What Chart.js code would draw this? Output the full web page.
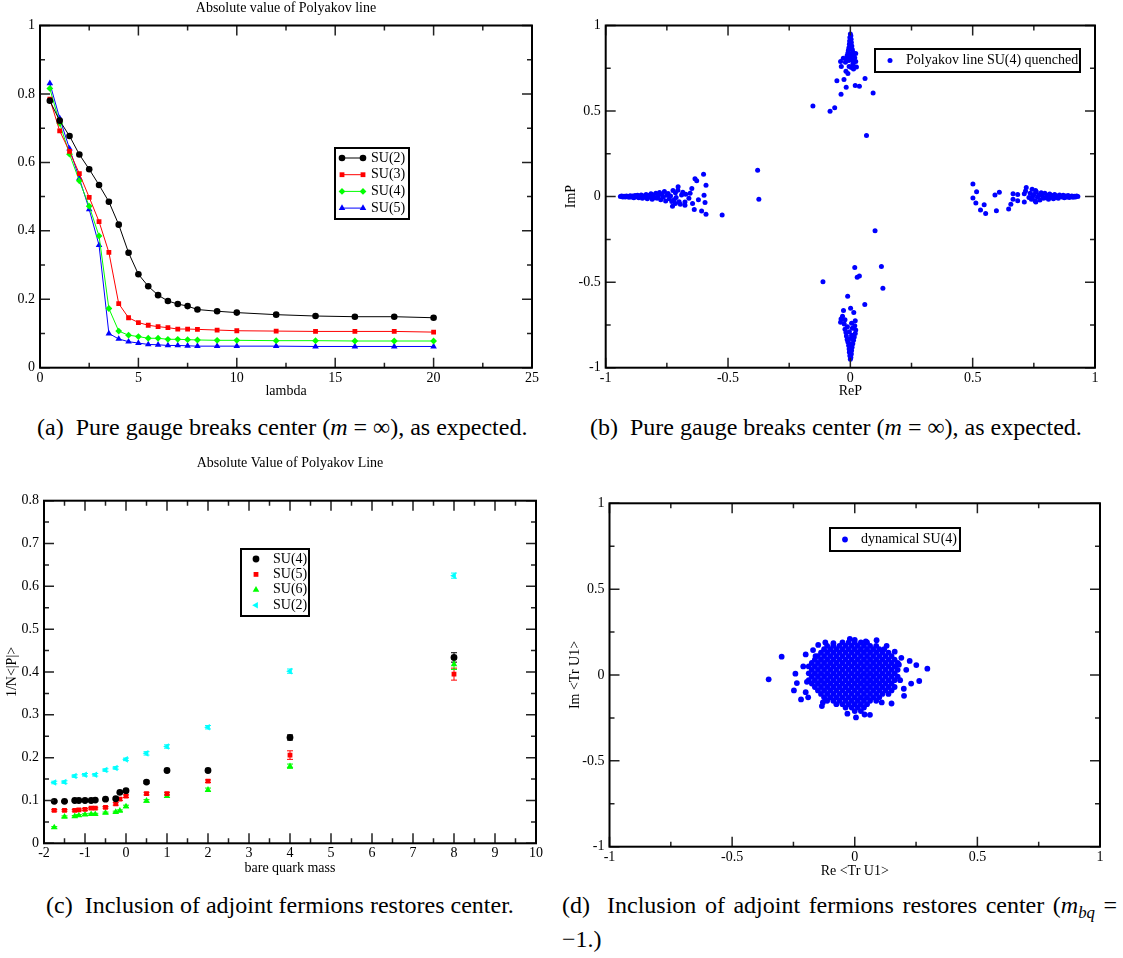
<!DOCTYPE html>
<html>
<head>
<meta charset="utf-8">
<script src="https://cdn.jsdelivr.net/npm/chart.js@4.4.1/dist/chart.umd.min.js"></script>
<style>
  body { margin: 0; background: #fff; width: 1123px; height: 958px; position: relative; overflow: hidden;
         font-family: "Liberation Serif", "Times New Roman", serif; color: #000; }
  canvas { position: absolute; }
  .cap { position: absolute; font-size: 24px; line-height: 1; white-space: nowrap; }
  .cap sub { font-size: 70%; vertical-align: -0.3em; line-height: 0; }
</style>
</head>
<body>
<canvas id="chartA" width="560" height="405" style="left:0;top:0"></canvas>
<canvas id="chartB" width="563" height="405" style="left:560px;top:0"></canvas>
<canvas id="chartC" width="560" height="430" style="left:0;top:450px"></canvas>
<canvas id="chartD" width="563" height="430" style="left:560px;top:450px"></canvas>

<div class="cap" style="left:37px;top:415px">(a)&nbsp; Pure gauge breaks center (<i>m</i> = ∞), as expected.</div>
<div class="cap" style="left:590px;top:415px">(b)&nbsp; Pure gauge breaks center (<i>m</i> = ∞), as expected.</div>
<div class="cap" style="left:46px;top:893px">(c)&nbsp; Inclusion of adjoint fermions restores center.</div>
<div class="cap" style="left:562px;top:893px;width:555px;text-align:justify;text-align-last:justify">(d)&nbsp; Inclusion of adjoint fermions restores center (<i>m<sub>bq</sub></i> =</div>
<div class="cap" style="left:562px;top:927px">−1.)</div>

<script>
// ---------- (a) absolute value of Polyakov line vs lambda ----------
const lambdaVals = [0.5, 1, 1.5, 2, 2.5, 3, 3.5, 4, 4.5, 5, 5.5, 6, 6.5, 7, 7.5, 8, 9, 10, 12, 14, 16, 18, 20];
const absSU2 = [0.780, 0.722, 0.677, 0.623, 0.580, 0.534, 0.485, 0.418, 0.336, 0.273, 0.238, 0.212, 0.195, 0.186, 0.180, 0.170, 0.165, 0.161, 0.155, 0.151, 0.149, 0.149, 0.146];
const absSU3 = [0.785, 0.692, 0.632, 0.567, 0.498, 0.427, 0.337, 0.187, 0.146, 0.132, 0.124, 0.120, 0.117, 0.113, 0.113, 0.112, 0.110, 0.108, 0.107, 0.106, 0.106, 0.106, 0.104];
const absSU4 = [0.816, 0.714, 0.624, 0.546, 0.472, 0.385, 0.173, 0.107, 0.095, 0.091, 0.086, 0.086, 0.083, 0.083, 0.082, 0.081, 0.080, 0.080, 0.079, 0.079, 0.078, 0.078, 0.078];
const absSU5 = [0.831, 0.729, 0.640, 0.553, 0.463, 0.358, 0.100, 0.084, 0.076, 0.072, 0.068, 0.067, 0.065, 0.065, 0.064, 0.063, 0.063, 0.063, 0.063, 0.062, 0.062, 0.062, 0.062];

// ---------- (b) Polyakov line SU(4) quenched, [Re, Im] ----------
const quenchedSU4 = [
  // left cluster
  [-0.940, 0.000], [-0.935, 0.003], [-0.930, -0.002], [-0.925, 0.002], [-0.920, -0.003], [-0.915, 0.004], [-0.910, 0.000], [-0.905, -0.004],
  [-0.900, 0.005], [-0.895, -0.002], [-0.890, 0.003], [-0.885, -0.006], [-0.880, 0.006], [-0.875, -0.001], [-0.870, 0.008], [-0.865, -0.007],
  [-0.860, 0.002], [-0.855, 0.010], [-0.850, -0.009], [-0.845, 0.004], [-0.840, -0.004], [-0.835, 0.013], [-0.830, -0.012], [-0.825, 0.006],
  [-0.820, -0.002], [-0.815, 0.016], [-0.810, -0.015], [-0.805, 0.009], [-0.800, -0.006], [-0.795, 0.020], [-0.790, -0.010], [-0.785, 0.003],
  [-0.780, 0.024], [-0.775, -0.018], [-0.770, 0.012], [-0.765, -0.004], [-0.760, 0.030], [-0.755, -0.025], [-0.750, 0.008], [-0.745, 0.018],
  [-0.740, -0.012], [-0.735, 0.004], [-0.730, -0.028], [-0.725, 0.035], [-0.720, -0.018], [-0.715, 0.022], [-0.712, -0.005],
  [-0.379, 0.154], [-0.374, -0.016], [-0.524, -0.107], [-0.600, 0.130], [-0.635, 0.105], [-0.628, 0.092], [-0.590, 0.066], [-0.648, 0.047],
  [-0.598, 0.008], [-0.594, -0.035], [-0.590, -0.103], [-0.608, -0.084], [-0.638, -0.076], [-0.645, -0.041], [-0.621, -0.018], [-0.673, 0.014],
  [-0.676, -0.031], [-0.676, -0.051], [-0.727, -0.057], [-0.704, 0.057], [-0.705, 0.037], [-0.690, 0.010], [-0.660, -0.010], [-0.700, -0.030],
  [-0.685, 0.025], [-0.655, 0.020], [-0.695, -0.045], [-0.715, -0.040],
  // right cluster
  [0.930, 0.000], [0.925, 0.003], [0.920, -0.002], [0.915, 0.002], [0.910, -0.004], [0.905, 0.004], [0.900, 0.000], [0.895, -0.005],
  [0.890, 0.006], [0.885, -0.002], [0.880, 0.004], [0.875, -0.007], [0.870, 0.008], [0.865, -0.003], [0.860, 0.002], [0.855, 0.010],
  [0.850, -0.009], [0.845, 0.004], [0.840, -0.005], [0.835, 0.012], [0.830, -0.012], [0.825, 0.006], [0.820, -0.002], [0.815, 0.015],
  [0.810, -0.015], [0.805, 0.008], [0.800, -0.006], [0.795, 0.020], [0.790, -0.010], [0.785, 0.004], [0.780, 0.022], [0.775, -0.020],
  [0.770, 0.010], [0.765, -0.004], [0.760, 0.028], [0.755, -0.024], [0.750, 0.012], [0.745, 0.002], [0.740, -0.015], [0.735, 0.020],
  [0.501, 0.074], [0.516, 0.029], [0.501, -0.008], [0.513, -0.037], [0.532, -0.078], [0.547, -0.047], [0.553, -0.099], [0.597, -0.082],
  [0.591, 0.010], [0.609, 0.025], [0.647, -0.072], [0.656, -0.045], [0.665, -0.016], [0.665, 0.016], [0.684, 0.012], [0.684, -0.024],
  [0.711, 0.016], [0.716, 0.033], [0.719, 0.053], [0.711, -0.031], [0.743, 0.043], [0.743, -0.010], [0.757, 0.035], [0.758, -0.032], [0.730, -0.005],
  // top cluster
  [0.000, 0.950], [0.002, 0.940], [-0.002, 0.930], [0.003, 0.920], [-0.003, 0.910], [0.004, 0.900], [-0.004, 0.890], [0.006, 0.880],
  [-0.006, 0.870], [0.008, 0.860], [-0.008, 0.855], [0.000, 0.865], [0.010, 0.845], [-0.010, 0.840], [0.003, 0.835], [0.014, 0.828],
  [-0.013, 0.825], [0.000, 0.815], [0.018, 0.812], [-0.016, 0.808], [0.008, 0.800], [-0.006, 0.795], [0.022, 0.790], [-0.020, 0.785],
  [0.012, 0.780], [0.000, 0.900], [0.000, 0.880],
  [-0.153, 0.530], [-0.083, 0.499], [-0.064, 0.520], [0.066, 0.357], [0.093, 0.605], [-0.038, 0.598], [-0.017, 0.639], [0.020, 0.649],
  [0.037, 0.645], [0.060, 0.690], [-0.055, 0.677], [-0.026, 0.684], [0.025, 0.758], [0.013, 0.746], [-0.037, 0.761], [-0.040, 0.790],
  [-0.018, 0.732], [-0.005, 0.760], [0.004, 0.755], [-0.029, 0.809], [0.022, 0.836], [-0.010, 0.720], [0.010, 0.770],
  // bottom cluster
  [0.000, -0.950], [0.002, -0.940], [-0.002, -0.930], [0.004, -0.920], [-0.004, -0.910], [0.005, -0.900], [-0.005, -0.890], [0.007, -0.880],
  [-0.007, -0.870], [0.010, -0.860], [-0.010, -0.850], [0.002, -0.860], [0.013, -0.840], [-0.013, -0.835], [0.000, -0.830], [0.016, -0.820],
  [-0.016, -0.815], [0.005, -0.810], [0.020, -0.800], [-0.018, -0.795], [-0.004, -0.790], [0.022, -0.780], [-0.022, -0.775], [0.008, -0.770],
  [-0.012, -0.760], [0.018, -0.755], [-0.025, -0.745], [0.005, -0.740], [0.000, -0.900], [0.000, -0.875],
  [0.101, -0.199], [0.018, -0.415], [0.127, -0.409], [0.028, -0.472], [0.037, -0.464], [-0.112, -0.497], [0.133, -0.536], [-0.011, -0.583],
  [0.059, -0.630], [-0.028, -0.665], [0.001, -0.653], [0.014, -0.678], [-0.032, -0.700], [-0.038, -0.715], [-0.022, -0.720], [-0.040, -0.735], [0.020, -0.725]
];

// ---------- (c) 1/N <|P|> vs bare quark mass ----------
const massVals = [-1.75, -1.5, -1.25, -1.15, -1, -0.85, -0.75, -0.5, -0.25, -0.15, 0, 0.5, 1, 2, 4, 8];
const massValsSU2 = [-1.75, -1.5, -1.25, -1, -0.75, -0.5, -0.25, 0, 0.5, 1, 2, 4, 8];
const plSU4 = [0.098, 0.098, 0.100, 0.100, 0.100, 0.100, 0.101, 0.103, 0.104, 0.119, 0.123, 0.143, 0.170, 0.170, 0.247, 0.434];
const plSU5 = [0.077, 0.077, 0.077, 0.078, 0.079, 0.082, 0.082, 0.084, 0.092, 0.103, 0.110, 0.116, 0.116, 0.145, 0.206, 0.395];
const plSU6 = [0.037, 0.062, 0.063, 0.065, 0.067, 0.068, 0.068, 0.071, 0.073, 0.076, 0.086, 0.099, 0.110, 0.125, 0.180, 0.418];
const plSU2 = [0.142, 0.143, 0.157, 0.160, 0.160, 0.171, 0.176, 0.196, 0.210, 0.226, 0.271, 0.402, 0.625];
const errSU4 = [0.002, 0.002, 0.002, 0.002, 0.002, 0.002, 0.002, 0.002, 0.002, 0.003, 0.003, 0.003, 0.003, 0.003, 0.006, 0.011];
const errSU5 = [0.002, 0.002, 0.002, 0.002, 0.002, 0.002, 0.002, 0.002, 0.003, 0.003, 0.003, 0.003, 0.003, 0.003, 0.010, 0.014];
const errSU6 = [0.002, 0.002, 0.002, 0.002, 0.002, 0.002, 0.002, 0.002, 0.002, 0.002, 0.003, 0.003, 0.003, 0.004, 0.005, 0.012];
const errSU2 = [0.003, 0.003, 0.003, 0.003, 0.003, 0.003, 0.003, 0.003, 0.004, 0.004, 0.004, 0.005, 0.006];

// ---------- (d) dynamical SU(4), Tr U1: dense core read row by row, then stragglers ----------
const dynRowIm = [0.19, 0.17, 0.15, 0.13, 0.11, 0.09, 0.07, 0.05, 0.03, 0.01, -0.01, -0.03, -0.05, -0.07, -0.09, -0.11, -0.13, -0.15, -0.17, -0.19, -0.21];
const dynRowRe = [
  [-0.05, -0.025, 0, 0.025, 0.05],
  [-0.1125, -0.0875, -0.0625, -0.0375, -0.0125, 0.0125, 0.0375, 0.0625, 0.0875],
  [-0.125, -0.1, -0.075, -0.05, -0.025, 0, 0.025, 0.05, 0.075, 0.1, 0.12],
  [-0.1375, -0.1125, -0.0875, -0.0625, -0.0375, -0.0125, 0.0125, 0.0375, 0.0625, 0.0875, 0.1125, 0.1375],
  [-0.16, -0.15, -0.125, -0.1, -0.075, -0.05, -0.025, 0, 0.025, 0.05, 0.075, 0.1, 0.125, 0.15],
  [-0.1625, -0.1375, -0.1125, -0.0875, -0.0625, -0.0375, -0.0125, 0.0125, 0.0375, 0.0625, 0.0875, 0.1125, 0.1375, 0.1625],
  [-0.175, -0.15, -0.125, -0.1, -0.075, -0.05, -0.025, 0, 0.025, 0.05, 0.075, 0.1, 0.125, 0.15, 0.175],
  [-0.1875, -0.1625, -0.1375, -0.1125, -0.0875, -0.0625, -0.0375, -0.0125, 0.0125, 0.0375, 0.0625, 0.0875, 0.1125, 0.1375, 0.1625],
  [-0.175, -0.15, -0.125, -0.1, -0.075, -0.05, -0.025, 0, 0.025, 0.05, 0.075, 0.1, 0.125, 0.15, 0.175],
  [-0.1875, -0.1625, -0.1375, -0.1125, -0.0875, -0.0625, -0.0375, -0.0125, 0.0125, 0.0375, 0.0625, 0.0875, 0.1125, 0.1375, 0.1625],
  [-0.175, -0.15, -0.125, -0.1, -0.075, -0.05, -0.025, 0, 0.025, 0.05, 0.075, 0.1, 0.125, 0.15, 0.175],
  [-0.1875, -0.1625, -0.1375, -0.1125, -0.0875, -0.0625, -0.0375, -0.0125, 0.0125, 0.0375, 0.0625, 0.0875, 0.1125, 0.1375, 0.1625],
  [-0.175, -0.15, -0.125, -0.1, -0.075, -0.05, -0.025, 0, 0.025, 0.05, 0.075, 0.1, 0.125, 0.15],
  [-0.1625, -0.1375, -0.1125, -0.0875, -0.0625, -0.0375, -0.0125, 0.0125, 0.0375, 0.0625, 0.0875, 0.1125, 0.1375, 0.1625],
  [-0.15, -0.125, -0.1, -0.075, -0.05, -0.025, 0, 0.025, 0.05, 0.075, 0.1, 0.125, 0.15],
  [-0.1375, -0.1125, -0.0875, -0.0625, -0.0375, -0.0125, 0.0125, 0.0375, 0.0625, 0.0875, 0.1125, 0.1375],
  [-0.125, -0.1, -0.075, -0.05, -0.025, 0, 0.025, 0.05, 0.075, 0.1],
  [-0.1125, -0.0875, -0.0625, -0.0375, -0.0125, 0.0125, 0.0375, 0.0625, 0.0875],
  [-0.075, -0.05, -0.025, 0, 0.025, 0.05],
  [-0.0375, -0.0125, 0.0125, 0.0375],
  [0, 0.025]
];
const dynOutliers = [
  [-0.351, -0.025], [-0.298, 0.107], [0.296, 0.037], [0.263, -0.035], [0.251, 0.058], [0.224, 0.082], [-0.242, 0.008], [-0.248, -0.090],
  [-0.219, -0.142], [-0.236, -0.047], [-0.134, -0.181], [0.005, -0.247], [0.062, -0.232], [0.000, 0.205], [-0.149, 0.175], [-0.087, 0.185],
  [0.089, 0.203], [0.163, 0.136], [0.201, -0.121], [0.150, -0.166], [0.21, 0.03], [0.23, -0.05], [0.20, -0.08], [-0.20, 0.12],
  [-0.21, 0.05], [-0.20, -0.10], [0.19, 0.10], [-0.19, -0.13], [0.04, -0.23], [-0.03, -0.225], [0.13, 0.17], [-0.12, 0.19],
  [0.185, -0.03], [0.18, 0.06], [-0.195, -0.04], [-0.17, 0.145], [0.11, -0.16], [-0.13, -0.16], [0.045, 0.195], [-0.02, 0.21]
];

// ---------- tick values ----------
const lambdaTicks = [0, 5, 10, 15, 20, 25];
const lambdaMinor = [2.5, 7.5, 12.5, 17.5, 22.5];
const absTicks = [0, 0.2, 0.4, 0.6, 0.8, 1];
const absMinor = [0.1, 0.3, 0.5, 0.7, 0.9];
const unitTicks = [-1, -0.5, 0, 0.5, 1];
const unitMinor = [-0.75, -0.25, 0.25, 0.75];
const massTicks = [-2, -1, 0, 1, 2, 3, 4, 5, 6, 7, 8, 9, 10];
const massMinor = [-1.5, -0.5, 0.5, 1.5, 2.5, 3.5, 4.5, 5.5, 6.5, 7.5, 8.5, 9.5];
const plTicks = [0, 0.1, 0.2, 0.3, 0.4, 0.5, 0.6, 0.7, 0.8];
const plMinor = [0.05, 0.15, 0.25, 0.35, 0.45, 0.55, 0.65, 0.75];

Chart.defaults.font.family = "'Liberation Serif', 'Times New Roman', serif";
Chart.defaults.font.size = 14;
Chart.defaults.color = '#000';

const pts = (xs, ys) => xs.map((x, i) => ({ x, y: ys[i] }));
const pairs = (arr) => arr.map(([x, y]) => ({ x, y }));

// frame with inward ticks on all four sides, plus a title over the plot area
const framePlugin = {
  id: 'frame',
  afterDatasetsDraw(chart, args, o) {
    if (!o || !o.xMajor) return;
    const { ctx, chartArea: a, scales: { x, y } } = chart;
    ctx.save();
    ctx.strokeStyle = '#222';
    ctx.lineWidth = 1.5;
    const drawX = (vals, len) => vals.forEach(v => {
      const px = x.getPixelForValue(v);
      ctx.beginPath();
      ctx.moveTo(px, a.bottom); ctx.lineTo(px, a.bottom - len);
      ctx.moveTo(px, a.top); ctx.lineTo(px, a.top + len);
      ctx.stroke();
    });
    const drawY = (vals, len) => vals.forEach(v => {
      const py = y.getPixelForValue(v);
      ctx.beginPath();
      ctx.moveTo(a.left, py); ctx.lineTo(a.left + len, py);
      ctx.moveTo(a.right, py); ctx.lineTo(a.right - len, py);
      ctx.stroke();
    });
    drawX(o.xMajor, 10); drawX(o.xMinor, 5);
    drawY(o.yMajor, 10); drawY(o.yMinor, 5);
    ctx.strokeStyle = '#000';
    ctx.lineWidth = 2;
    ctx.strokeRect(a.left, a.top, a.right - a.left, a.bottom - a.top);
    if (o.title) {
      ctx.fillStyle = '#000';
      ctx.font = "14px 'Liberation Serif', serif";
      ctx.textAlign = 'center';
      ctx.textBaseline = 'middle';
      ctx.fillText(o.title, (a.left + a.right) / 2, o.titleY);
    }
    ctx.restore();
  }
};

// boxed legend placed inside the plot, xmgrace style
const boxLegend = {
  id: 'boxLegend',
  afterDraw(chart, args, o) {
    if (!o || !o.box) return;
    const ctx = chart.ctx;
    const [bx, by, bw, bh] = o.box;
    ctx.save();
    ctx.fillStyle = '#fff';
    ctx.fillRect(bx, by, bw, bh);
    ctx.lineWidth = 2;
    ctx.strokeStyle = '#000';
    ctx.strokeRect(bx, by, bw, bh);
    ctx.font = "14px 'Liberation Serif', serif";
    ctx.textBaseline = 'middle';
    chart.data.datasets.forEach((ds, i) => {
      const y = o.firstY + i * o.rowH;
      const style = { pointStyle: ds.pointStyle, radius: ds.pointRadius, rotation: ds.pointRotation || 0, borderWidth: 0 };
      ctx.fillStyle = ds.pointBackgroundColor;
      if (o.lineTo) {
        ctx.strokeStyle = ds.borderColor;
        ctx.lineWidth = 1;
        ctx.beginPath(); ctx.moveTo(o.markerX, y); ctx.lineTo(o.lineTo, y); ctx.stroke();
        Chart.helpers.drawPoint(ctx, style, o.markerX, y);
        Chart.helpers.drawPoint(ctx, style, o.lineTo, y);
      } else {
        Chart.helpers.drawPoint(ctx, style, o.markerX, y);
      }
      ctx.fillStyle = '#000';
      ctx.textAlign = 'left';
      ctx.fillText(ds.label, o.textX, y);
    });
    ctx.restore();
  }
};

// vertical error bars with caps
const errorBars = {
  id: 'errorBars',
  beforeDatasetsDraw(chart) {
    const { ctx, scales: { y } } = chart;
    chart.data.datasets.forEach((ds, i) => {
      if (!ds.errors) return;
      const meta = chart.getDatasetMeta(i);
      ctx.save();
      ctx.strokeStyle = ds.pointBackgroundColor;
      ctx.lineWidth = 1;
      meta.data.forEach((el, j) => {
        const v = ds.data[j].y, e = ds.errors[j];
        const y1 = y.getPixelForValue(v - e), y2 = y.getPixelForValue(v + e);
        ctx.beginPath();
        ctx.moveTo(el.x, y1); ctx.lineTo(el.x, y2);
        ctx.moveTo(el.x - 3, y1); ctx.lineTo(el.x + 3, y1);
        ctx.moveTo(el.x - 3, y2); ctx.lineTo(el.x + 3, y2);
        ctx.stroke();
      });
      ctx.restore();
    });
  }
};

Chart.register(framePlugin, boxLegend, errorBars);

function axis(min, max, ticks, fit, title, titlePad, isY) {
  return {
    type: 'linear', min, max,
    grid: { display: false, drawTicks: false },
    border: { display: false },
    ticks: { autoSkip: false, maxRotation: 0, padding: isY ? 5 : 2, color: '#000', callback: v => String(v) },
    afterBuildTicks: s => { s.ticks = ticks.map(v => ({ value: v })); },
    afterFit: s => { if (isY) s.width = fit; else s.height = fit; },
    title: title ? { display: true, text: title, color: '#000', font: { size: 14 },
                     padding: isY ? { top: titlePad, bottom: 0 } : { top: 0, bottom: titlePad } } : { display: false }
  };
}

function options(p) {
  return {
    responsive: false,
    animation: false,
    events: [],
    layout: { padding: { top: p.top, right: p.right, left: 0, bottom: 0 } },
    plugins: {
      legend: { display: false },
      tooltip: { enabled: false },
      frame: p.frame,
      boxLegend: p.legend
    },
    scales: { x: p.x, y: p.y }
  };
}

function lineSet(label, xs, ys, color, style, r) {
  return { label, data: pts(xs, ys), showLine: true, borderColor: color, borderWidth: 1,
           pointStyle: style, pointRadius: r, pointBackgroundColor: color, pointBorderWidth: 0 };
}

function dotSet(label, data, color, style, r, rot, errors) {
  return { label, data, showLine: false, borderColor: color, pointStyle: style, pointRadius: r,
           pointRotation: rot || 0, pointBackgroundColor: color, pointBorderWidth: 0, errors };
}

// (a)
new Chart(document.getElementById('chartA'), {
  type: 'scatter',
  data: { datasets: [
    lineSet('SU(2)', lambdaVals, absSU2, '#000000', 'circle', 3.3),
    lineSet('SU(3)', lambdaVals, absSU3, '#ff0000', 'rect', 3.4),
    lineSet('SU(4)', lambdaVals, absSU4, '#00ff00', 'rectRot', 3.4),
    lineSet('SU(5)', lambdaVals, absSU5, '#0000ff', 'triangle', 3.8)
  ] },
  options: options({
    top: 25.5, right: 28,
    x: axis(0, 25, lambdaTicks, 37.3, 'lambda', 5.6, false),
    y: axis(0, 1, absTicks, 40, null, 0, true),
    frame: { xMajor: lambdaTicks, xMinor: lambdaMinor, yMajor: absTicks, yMinor: absMinor,
             title: 'Absolute value of Polyakov line', titleY: 8.5 },
    legend: { box: [335, 148, 74, 71], firstY: 158, rowH: 16.7, markerX: 342, lineTo: 363, textX: 371 }
  })
});

// (b)
new Chart(document.getElementById('chartB'), {
  type: 'scatter',
  data: { datasets: [ dotSet('Polyakov line SU(4) quenched', pairs(quenchedSU4), '#0000ff', 'circle', 2.5) ] },
  options: options({
    top: 25.5, right: 28,
    x: axis(-1, 1, unitTicks, 37.3, 'ReP', 4.9, false),
    y: axis(-1, 1, unitTicks, 45.7, 'ImP', 2.6, true),
    frame: { xMajor: unitTicks, xMinor: unitMinor, yMajor: unitTicks, yMinor: unitMinor },
    legend: { box: [315, 49, 205, 23], firstY: 60.5, rowH: 0, markerX: 330, textX: 346 }
  })
});

// (c)
new Chart(document.getElementById('chartC'), {
  type: 'scatter',
  data: { datasets: [
    dotSet('SU(4)', pts(massVals, plSU4), '#000000', 'circle', 3.4, 0, errSU4),
    dotSet('SU(5)', pts(massVals, plSU5), '#ff0000', 'rect', 3.4, 0, errSU5),
    dotSet('SU(6)', pts(massVals, plSU6), '#00ff00', 'triangle', 3.8, 0, errSU6),
    dotSet('SU(2)', pts(massValsSU2, plSU2), '#00ffff', 'triangle', 3.8, -90, errSU2)
  ] },
  options: options({
    top: 50.7, right: 24,
    x: axis(-2, 10, massTicks, 36.7, 'bare quark mass', 3.6, false),
    y: axis(0, 0.8, plTicks, 44, '1/N<|P|>', 4.2, true),
    frame: { xMajor: massTicks, xMinor: massMinor, yMajor: plTicks, yMinor: plMinor,
             title: 'Absolute Value of Polyakov Line', titleY: 13 },
    legend: { box: [241, 99, 68, 67], firstY: 109, rowH: 15.4, markerX: 256, textX: 273 }
  })
});

// (d)
const dynamicalSU4 = [];
dynRowIm.forEach((im, r) => dynRowRe[r].forEach(re => dynamicalSU4.push({ x: re, y: im })));
pairs(dynOutliers).forEach(p => dynamicalSU4.push(p));

new Chart(document.getElementById('chartD'), {
  type: 'scatter',
  data: { datasets: [ dotSet('dynamical SU(4)', dynamicalSU4, '#0000ff', 'circle', 2.9) ] },
  options: options({
    top: 53.3, right: 23,
    x: axis(-1, 1, unitTicks, 33.3, 'Re <Tr U1>', 0.6, false),
    y: axis(-1, 1, unitTicks, 49.5, 'Im <Tr U1>', 6.6, true),
    frame: { xMajor: unitTicks, xMinor: unitMinor, yMajor: unitTicks, yMinor: unitMinor },
    legend: { box: [270, 78, 130, 23], firstY: 89.5, rowH: 0, markerX: 285, textX: 301 }
  })
});
</script>
</body>
</html>
